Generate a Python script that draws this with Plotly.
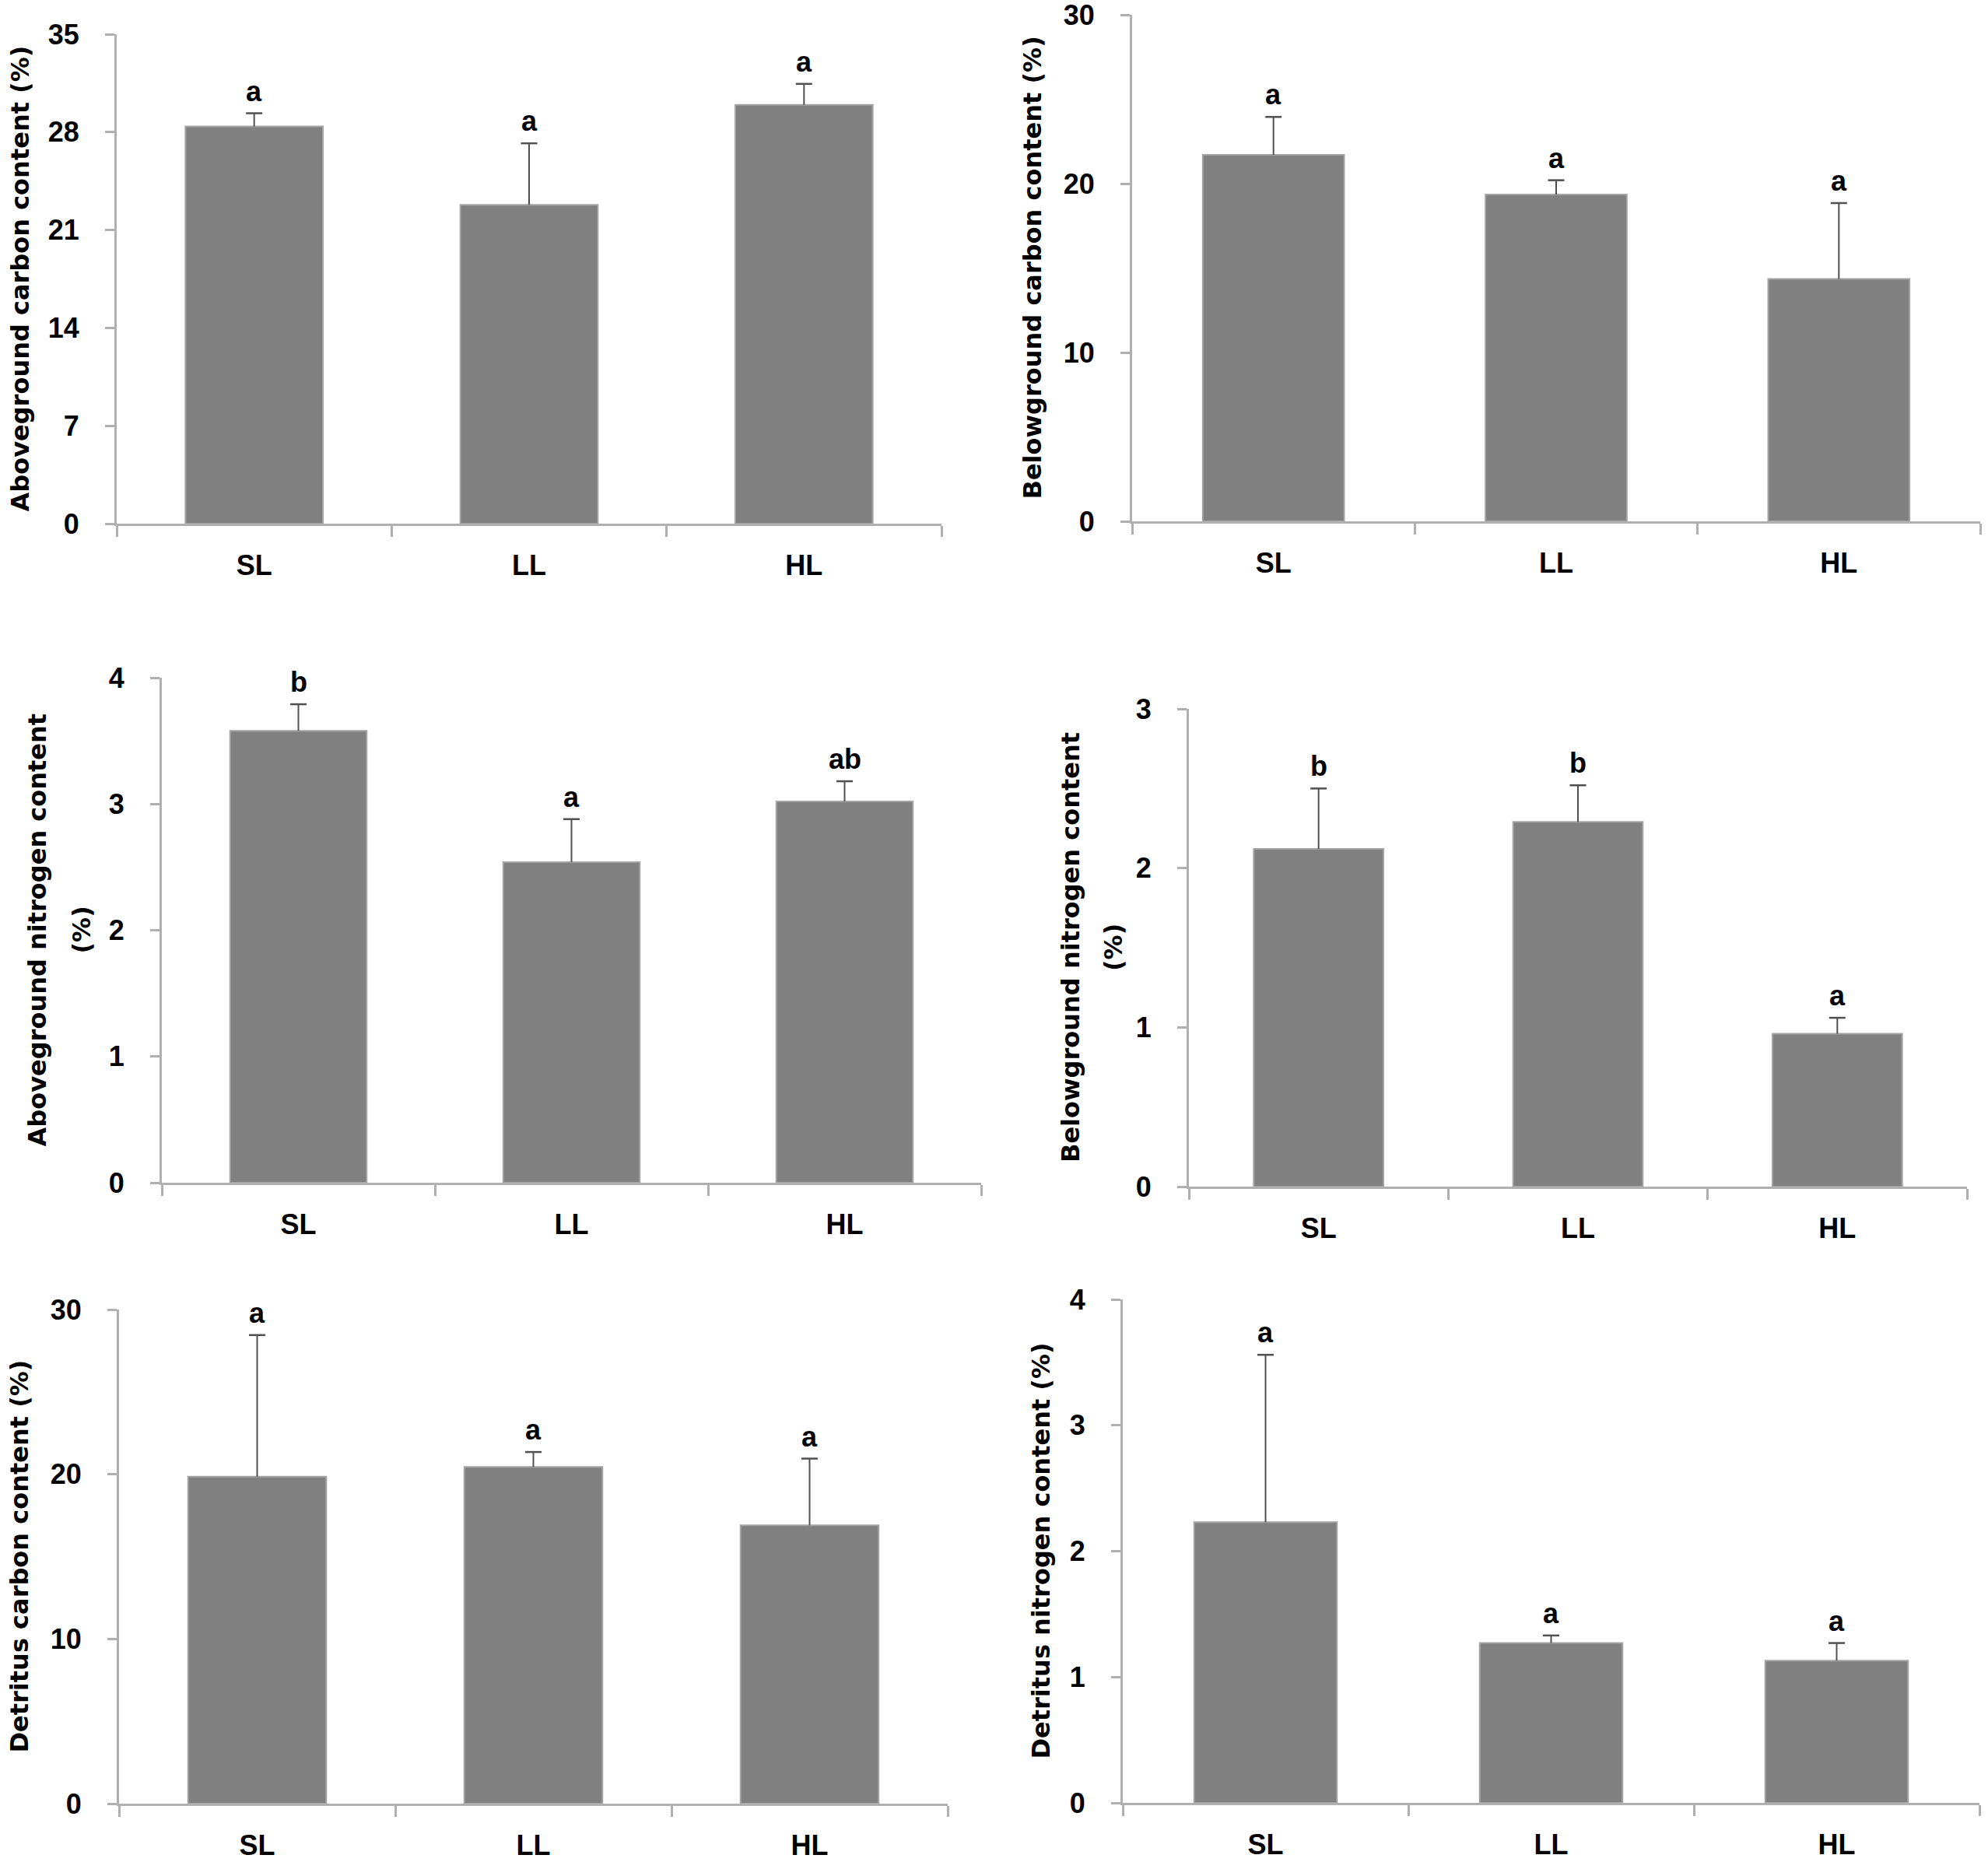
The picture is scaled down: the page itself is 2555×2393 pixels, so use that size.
import plotly.graph_objects as go

categories = ["SL", "LL", "HL"]

above_carbon = [28.4, 22.8, 29.95]
above_carbon_err = [0.95, 4.4, 1.5]
above_carbon_letters = ["a", "a", "a"]

below_carbon = [21.7, 19.35, 14.35]
below_carbon_err = [2.25, 0.85, 4.5]
below_carbon_letters = ["a", "a", "a"]

above_nitrogen = [3.58, 2.54, 3.02]
above_nitrogen_err = [0.21, 0.34, 0.16]
above_nitrogen_letters = ["b", "a", "ab"]

below_nitrogen = [2.12, 2.29, 0.96]
below_nitrogen_err = [0.38, 0.23, 0.10]
below_nitrogen_letters = ["b", "b", "a"]

detritus_carbon = [19.85, 20.45, 16.9]
detritus_carbon_err = [8.6, 0.9, 4.05]
detritus_carbon_letters = ["a", "a", "a"]

detritus_nitrogen = [2.23, 1.27, 1.13]
detritus_nitrogen_err = [1.33, 0.06, 0.14]
detritus_nitrogen_letters = ["a", "a", "a"]

W, H = 2555, 2393

panels = [
    dict(vals=above_carbon, err=above_carbon_err, letters=above_carbon_letters,
         ymax=35, dtick=7, title=["Aboveground carbon content (%)"],
         xpx=(150, 1210), ypx=(44, 673), tx=[26]),
    dict(vals=below_carbon, err=below_carbon_err, letters=below_carbon_letters,
         ymax=30, dtick=10, title=["Belowground carbon content (%)"],
         xpx=(1455, 2545), ypx=(19, 670), tx=[1326]),
    dict(vals=above_nitrogen, err=above_nitrogen_err, letters=above_nitrogen_letters,
         ymax=4, dtick=1, title=["Aboveground nitrogen content", "(%)"],
         xpx=(208, 1261), ypx=(871, 1520), tx=[47, 104]),
    dict(vals=below_nitrogen, err=below_nitrogen_err, letters=below_nitrogen_letters,
         ymax=3, dtick=1, title=["Belowground nitrogen content", "(%)"],
         xpx=(1528, 2528), ypx=(911, 1525), tx=[1376, 1431]),
    dict(vals=detritus_carbon, err=detritus_carbon_err, letters=detritus_carbon_letters,
         ymax=30, dtick=10, title=["Detritus carbon content (%)"],
         xpx=(153, 1218), ypx=(1683, 2318), tx=[24]),
    dict(vals=detritus_nitrogen, err=detritus_nitrogen_err, letters=detritus_nitrogen_letters,
         ymax=4, dtick=1, title=["Detritus nitrogen content (%)"],
         xpx=(1443, 2544), ypx=(1670, 2317), tx=[1337]),
]

BAR = "#808080"
BAR_EDGE = "#a4a4a4"
AXIS = "#b0b0b0"
ERR = "#505050"
TICKFONT = dict(family="Liberation Sans Narrow, Arial Narrow, Liberation Sans, sans-serif",
                size=36, color="black", weight="bold")
TITLEFONT = dict(family="DejaVu Sans, Verdana, sans-serif", size=32, color="black", weight="bold")

fig = go.Figure()
annotations = []
layout = {}

for i, p in enumerate(panels, start=1):
    sfx = "" if i == 1 else str(i)
    xref, yref = f"x{sfx}", f"y{sfx}"
    tops = [v + e for v, e in zip(p["vals"], p["err"])]
    fig.add_trace(go.Bar(
        x=categories, y=p["vals"], width=0.5,
        marker=dict(color=BAR, line=dict(width=2, color=BAR_EDGE)),
        error_y=dict(type="data", symmetric=False, array=p["err"],
                     arrayminus=[0] * len(p["err"]), color=ERR, thickness=2, width=0),
        xaxis=xref, yaxis=yref, showlegend=False, hoverinfo="skip"))
    fig.add_trace(go.Scatter(
        x=categories, y=tops, mode="markers",
        marker=dict(symbol="line-ew", size=15, line=dict(width=2.5, color=ERR)),
        xaxis=xref, yaxis=yref, showlegend=False, hoverinfo="skip"))

    x0, x1 = p["xpx"]
    y0, y1 = p["ypx"]
    layout[f"xaxis{sfx}"] = dict(
        domain=[x0 / W, x1 / W], anchor=yref, type="category", automargin=False,
        range=[-0.5, 2.5], showline=True, linecolor=AXIS, linewidth=3,
        ticks="outside", tickson="boundaries", ticklen=14, tickwidth=3, tickcolor=AXIS,
        tickfont=TICKFONT, ticklabelstandoff=20, ticklabeloverflow="allow",
        showgrid=False, zeroline=False, fixedrange=True)
    layout[f"yaxis{sfx}"] = dict(
        domain=[1 - y1 / H, 1 - y0 / H], anchor=xref, automargin=False,
        range=[0, p["ymax"]], tick0=0, dtick=p["dtick"], showline=True,
        linecolor=AXIS, linewidth=3, ticks="outside", ticklen=12, tickwidth=3,
        tickcolor=AXIS, tickfont=TICKFONT, ticklabelstandoff=26,
        ticklabeloverflow="allow",
        showgrid=False, zeroline=False, fixedrange=True)

    for c, t, lab in zip(categories, tops, p["letters"]):
        annotations.append(dict(
            x=c, y=t, xref=xref, yref=yref, text=lab, showarrow=False,
            yanchor="bottom", xanchor="center", yshift=6, font=TICKFONT))

    ymid = 1 - (y0 + y1) / 2 / H
    for line, tx in zip(p["title"], p["tx"]):
        annotations.append(dict(
            x=tx / W, y=ymid, xref="paper", yref="paper", text=line,
            showarrow=False, textangle=-90, xanchor="center", yanchor="middle",
            font=TITLEFONT))

fig.update_layout(
    template="none",
    width=W, height=H, margin=dict(l=0, r=0, t=0, b=0, autoexpand=False),
    paper_bgcolor="white", plot_bgcolor="white", bargap=0.5,
    annotations=annotations, **layout)

fig.write_html("out.html", config={"displayModeBar": False},
               post_script="document.body.style.margin='0';")
